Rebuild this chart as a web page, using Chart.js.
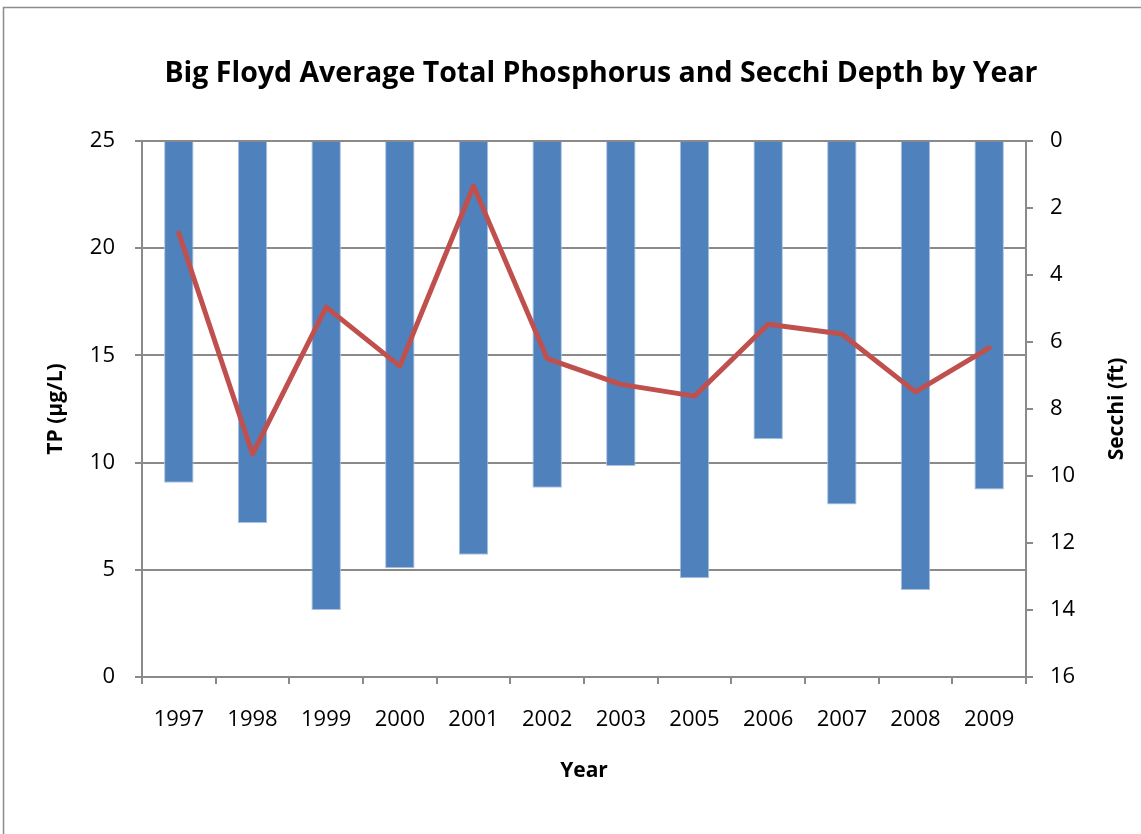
<!DOCTYPE html>
<html>
<head>
<meta charset="utf-8">
<script src="https://cdn.jsdelivr.net/npm/chart.js@4/dist/chart.umd.min.js"></script>
<style>
html,body{margin:0;padding:0;background:#fff;}
#wrap{position:relative;width:1141px;height:834px;}
</style>
</head>
<body>
<div id="wrap"><canvas id="c" width="1141" height="834"></canvas></div>
<script>
const years = ['1997','1998','1999','2000','2001','2002','2003','2005','2006','2007','2008','2009'];
const secchiFt = [10.2, 11.4, 14.0, 12.75, 12.35, 10.35, 9.7, 13.05, 8.9, 10.85, 13.4, 10.4];
const tpUgL = [20.7, 10.4, 17.25, 14.5, 22.9, 14.85, 13.65, 13.1, 16.45, 16.0, 13.3, 15.35];
const titleText = 'Big Floyd Average Total Phosphorus and Secchi Depth by Year';
const xTitle = 'Year';
const yLeftTitle = 'TP (µg/L)';
const yRightTitle = 'Secchi (ft)';

const gridColor = '#8a8a8a';
const FONT = '"Open Sans", "DejaVu Sans", sans-serif';

const textPlugin = {
  id: 'texts',
  beforeDraw(chart) {
    const ctx = chart.ctx;
    ctx.save();
    ctx.fillStyle = '#fff';
    ctx.fillRect(0, 0, chart.width, chart.height);
    ctx.strokeStyle = '#8c8c8c';
    ctx.lineWidth = 1.5;
    ctx.strokeRect(3.5, 7.5, chart.width + 10, chart.height + 10);
    ctx.restore();
  },
  afterDraw(chart) {
    const ctx = chart.ctx;
    const a = chart.chartArea;
    ctx.save();
    ctx.fillStyle = '#000';
    ctx.textAlign = 'center';
    ctx.textBaseline = 'middle';
    ctx.font = 'bold 28.5px ' + FONT;
    ctx.fillText(titleText, 601, 74);
    ctx.font = 'bold 21px ' + FONT;
    ctx.fillText(xTitle, (a.left + a.right) / 2, 771);
    ctx.save();
    ctx.translate(56, (a.top + a.bottom) / 2);
    ctx.rotate(-Math.PI / 2);
    ctx.fillText(yLeftTitle, 0, 0);
    ctx.restore();
    ctx.save();
    ctx.translate(1117, (a.top + a.bottom) / 2);
    ctx.rotate(-Math.PI / 2);
    ctx.fillText(yRightTitle, 0, 0);
    ctx.restore();
    ctx.restore();
  }
};

new Chart(document.getElementById('c'), {
  data: {
    labels: years,
    datasets: [
      {
        type: 'line',
        label: 'TP',
        data: tpUgL,
        yAxisID: 'y',
        borderColor: '#C0504D',
        borderWidth: 5,
        pointRadius: 0,
        tension: 0,
        borderJoinStyle: 'round',
        borderCapStyle: 'round',
        order: 0
      },
      {
        type: 'bar',
        label: 'Secchi',
        data: secchiFt,
        yAxisID: 'y2',
        backgroundColor: '#4F81BD',
        borderColor: '#A9C2E0',
        borderWidth: 1,
        barPercentage: 0.4,
        categoryPercentage: 1.0,
        order: 1
      }
    ]
  },
  options: {
    responsive: false,
    animation: false,
    layout: { padding: { top: 141, left: 0, right: 0, bottom: 0 } },
    plugins: { legend: { display: false }, title: { display: false }, tooltip: { enabled: false } },
    scales: {
      x: {
        type: 'category',
        offset: true,
        afterFit(s) { s.height = 157; },
        grid: { offset: true, drawOnChartArea: false, color: gridColor, lineWidth: 2, tickLength: 7 },
        border: { color: gridColor, width: 2 },
        ticks: { color: '#000', font: { family: FONT, size: 22 }, padding: 23, maxRotation: 0, autoSkip: false }
      },
      y: {
        position: 'left',
        min: 0, max: 25,
        afterFit(s) { s.width = 142; },
        grid: { color: gridColor, lineWidth: 2, tickLength: 7 },
        border: { color: gridColor, width: 2 },
        ticks: { stepSize: 5, color: '#000', font: { family: FONT, size: 22 }, padding: 20 }
      },
      y2: {
        position: 'right',
        reverse: true,
        min: 0, max: 16,
        afterFit(s) { s.width = 115; },
        grid: { drawOnChartArea: false, color: gridColor, lineWidth: 2, tickLength: 7 },
        border: { color: gridColor, width: 2 },
        ticks: { stepSize: 2, color: '#000', font: { family: FONT, size: 22 }, padding: 17 }
      }
    }
  },
  plugins: [textPlugin]
});
</script>
</body>
</html>
